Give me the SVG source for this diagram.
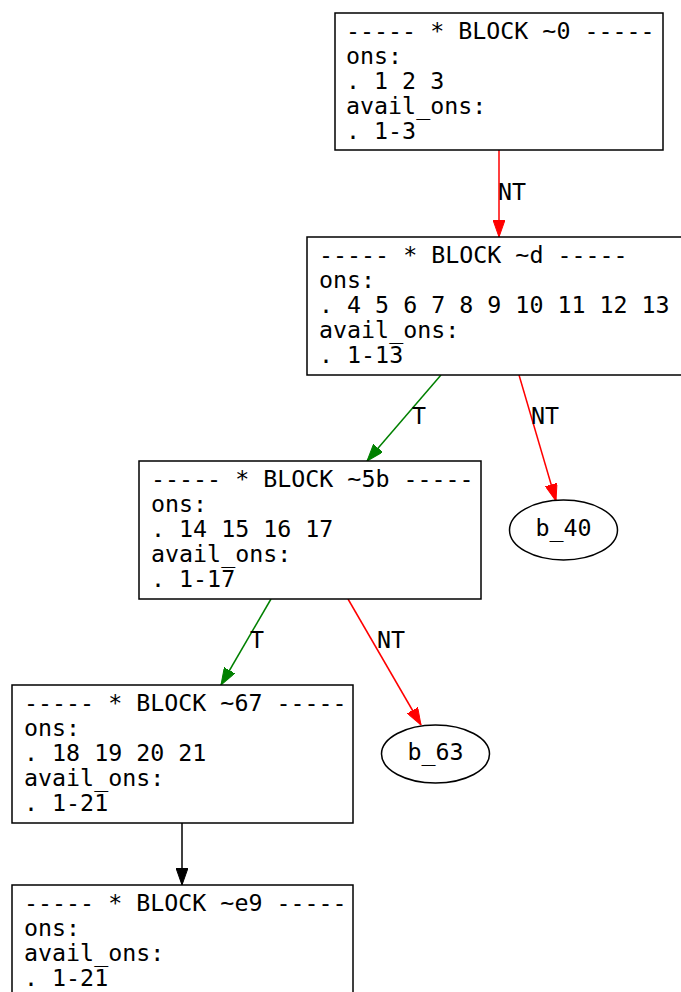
<svg xmlns="http://www.w3.org/2000/svg" width="681" height="992" viewBox="0 0 681 992">
<style>
text{font-family:"DejaVu Sans Mono","Liberation Mono",monospace;font-size:23.3px;fill:#000}
.box{fill:#fff;stroke:#000;stroke-width:1.5}
.el{fill:#fff;stroke:#000;stroke-width:1.5}
.e{fill:none;stroke-width:1.5}
.red{stroke:#ff0000}
.green{stroke:#008000}
.black{stroke:#000}
.mid{text-anchor:middle}
</style>
<defs>
<marker id="ar" viewBox="0 0 17 12" refX="17" refY="6" markerWidth="17" markerHeight="12" markerUnits="userSpaceOnUse" orient="auto"><path d="M0,0L17,6L0,12z" fill="#ff0000" stroke="#ff0000"/></marker>
<marker id="ag" viewBox="0 0 17 12" refX="17" refY="6" markerWidth="17" markerHeight="12" markerUnits="userSpaceOnUse" orient="auto"><path d="M0,0L17,6L0,12z" fill="#008000" stroke="#008000"/></marker>
<marker id="ab" viewBox="0 0 17 12" refX="17" refY="6" markerWidth="17" markerHeight="12" markerUnits="userSpaceOnUse" orient="auto"><path d="M0,0L17,6L0,12z" fill="#000" stroke="#000"/></marker>
</defs>
<rect width="681" height="992" fill="#fff"/>
<g id="connectors">
<line class="e red" x1="499" y1="150" x2="499" y2="237" marker-end="url(#ar)"/>
<text x="498" y="200">NT</text>
<line class="e green" x1="441" y1="375" x2="367" y2="461" marker-end="url(#ag)"/>
<text x="412" y="424">T</text>
<line class="e red" x1="519" y1="375" x2="556" y2="501" marker-end="url(#ar)"/>
<text x="531" y="424">NT</text>
<line class="e green" x1="271" y1="599" x2="221" y2="685" marker-end="url(#ag)"/>
<text x="250" y="648">T</text>
<line class="e red" x1="348" y1="599" x2="421" y2="725" marker-end="url(#ar)"/>
<text x="377" y="648">NT</text>
<line class="e black" x1="182" y1="823" x2="182" y2="885" marker-end="url(#ab)"/>
</g>
<g id="block_0">
<rect class="box" x="335" y="13" width="328" height="137"/>
<text xml:space="preserve"><tspan x="346" y="39">----- * BLOCK ~0 -----</tspan><tspan x="346" y="64">ons:</tspan><tspan x="346" y="89">. 1 2 3</tspan><tspan x="346" y="114">avail_ons:</tspan><tspan x="346" y="139">. 1-3</tspan></text>
</g>
<g id="block_d">
<rect class="box" x="307" y="237" width="380" height="138"/>
<text xml:space="preserve"><tspan x="319" y="263">----- * BLOCK ~d -----</tspan><tspan x="319" y="288">ons:</tspan><tspan x="319" y="313">. 4 5 6 7 8 9 10 11 12 13</tspan><tspan x="319" y="338">avail_ons:</tspan><tspan x="319" y="363">. 1-13</tspan></text>
</g>
<g id="block_5b">
<rect class="box" x="139" y="461" width="342" height="138"/>
<text xml:space="preserve"><tspan x="151" y="487">----- * BLOCK ~5b -----</tspan><tspan x="151" y="512">ons:</tspan><tspan x="151" y="537">. 14 15 16 17</tspan><tspan x="151" y="562">avail_ons:</tspan><tspan x="151" y="587">. 1-17</tspan></text>
</g>
<g id="b_40">
<ellipse class="el" cx="563.5" cy="530" rx="54" ry="30"/>
<text class="mid" x="563.5" y="536">b_40</text>
</g>
<g id="block_67">
<rect class="box" x="12" y="685" width="341" height="138"/>
<text xml:space="preserve"><tspan x="24" y="711">----- * BLOCK ~67 -----</tspan><tspan x="24" y="736">ons:</tspan><tspan x="24" y="761">. 18 19 20 21</tspan><tspan x="24" y="786">avail_ons:</tspan><tspan x="24" y="811">. 1-21</tspan></text>
</g>
<g id="b_63">
<ellipse class="el" cx="435.5" cy="754" rx="54" ry="29"/>
<text class="mid" x="435.5" y="760">b_63</text>
</g>
<g id="block_e9">
<rect class="box" x="12" y="885" width="341" height="138"/>
<text xml:space="preserve"><tspan x="24" y="911">----- * BLOCK ~e9 -----</tspan><tspan x="24" y="936">ons:</tspan><tspan x="24" y="961">avail_ons:</tspan><tspan x="24" y="986">. 1-21</tspan></text>
</g>
</svg>
